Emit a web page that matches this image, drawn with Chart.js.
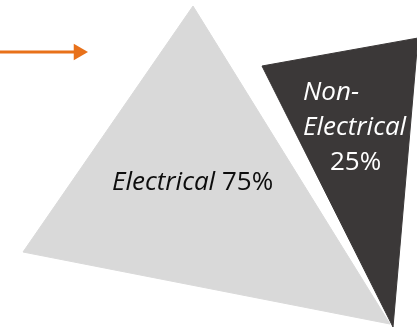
<!DOCTYPE html>
<html>
<head>
<meta charset="utf-8">
<script src="https://cdn.jsdelivr.net/npm/chart.js@4/dist/chart.umd.min.js"></script>
<style>
  html, body { margin:0; padding:0; background:#fff; }
  #wrap { width:417px; height:327px; }
</style>
</head>
<body>
<div id="wrap"><canvas id="shareChart" width="417" height="327"></canvas></div>
<script>
// categories and shares
const categories = ['Electrical', 'Non-Electrical'];
const shares = [75, 25];

// triangle corners (chart units)
const elecX = [193, 23, 390];
const elecY = [6, 252, 324];
const nonElecX = [262, 418, 393];
const nonElecY = [66, 38, 327];

// pointer arrow
const arrowX = [0, 78.5];
const arrowY = [52, 52];

// where the labels sit (left of each line, baseline)
const elecLabelX = 112, elecLabelY = 190;
const nonLabelX = [303, 303, 330];
const nonLabelY = [100, 135, 170];

const toPts = (xs, ys) => {
  const pts = xs.map((x, i) => ({x, y: ys[i]}));
  pts.push({x: xs[0], y: ys[0]});
  return pts;
};

const FONT = "'Open Sans', sans-serif";
const SIZE = 26;

const labelPlugin = {
  id: 'sliceLabels',
  afterDatasetsDraw(chart) {
    const {ctx, scales:{x, y}} = chart;
    ctx.save();
    ctx.textBaseline = 'alphabetic';
    ctx.textAlign = 'left';

    // Electrical 75%
    let px = x.getPixelForValue(elecLabelX), py = y.getPixelForValue(elecLabelY);
    ctx.fillStyle = '#0d0d0d';
    ctx.font = 'italic ' + SIZE + 'px ' + FONT;
    ctx.fillText(categories[0], px, py);
    px += ctx.measureText(categories[0] + ' ').width;
    ctx.font = SIZE + 'px ' + FONT;
    ctx.fillText(shares[0] + '%', px, py);

    // Non-Electrical 25%
    const lines = [['Non-', true], ['Electrical', true], [shares[1] + '%', false]];
    ctx.fillStyle = '#fff';
    lines.forEach(([t, it], i) => {
      ctx.font = (it ? 'italic ' : '') + SIZE + 'px ' + FONT;
      ctx.fillText(t, x.getPixelForValue(nonLabelX[i]), y.getPixelForValue(nonLabelY[i]));
    });
    ctx.restore();
  }
};

new Chart(document.getElementById('shareChart').getContext('2d'), {
  type:'line',
  data:{
    datasets:[
      {
        label: categories[0],
        data: toPts(elecX, elecY),
        backgroundColor:'#d9d9d9', borderColor:'#d9d9d9', borderWidth:1,
        fill:'shape', tension:0, pointRadius:0
      },
      {
        label: categories[1],
        data: toPts(nonElecX, nonElecY),
        backgroundColor:'#3b3838', borderColor:'#3b3838', borderWidth:1,
        fill:'shape', tension:0, pointRadius:0
      },
      {
        label:'arrow',
        data: arrowX.map((x, i) => ({x, y: arrowY[i]})),
        borderColor:'#e8711a', backgroundColor:'#e8711a', borderWidth:3,
        fill:false, tension:0,
        pointRadius:[0, 9.5], pointStyle:'triangle', rotation:90,
        pointBorderWidth:0
      }
    ]
  },
  options:{
    responsive:false, animation:false,
    layout:{padding:0, autoPadding:false},
    plugins:{legend:{display:false}, tooltip:{enabled:false}},
    scales:{
      x:{type:'linear', min:0, max:417, display:false},
      y:{type:'linear', min:0, max:327, reverse:true, display:false}
    }
  },
  plugins:[labelPlugin]
});
</script>
</body>
</html>
